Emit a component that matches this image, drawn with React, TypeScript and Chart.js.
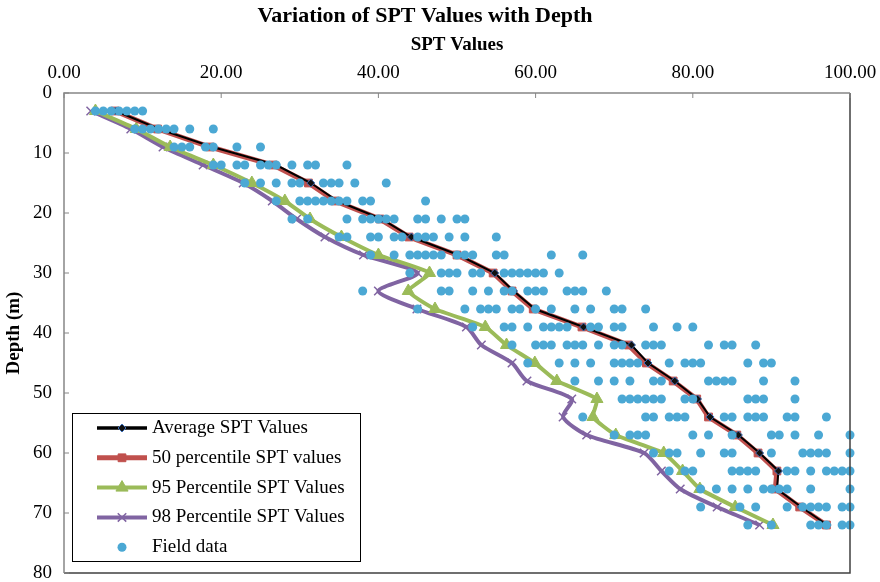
import React, { useEffect, useRef } from 'react';
import { Chart, registerables } from 'chart.js';
import { drawPoint } from 'chart.js/helpers';

Chart.register(...registerables);

const FONT = '"Liberation Serif", "Times New Roman", serif';

// Depth (m) of each SPT row
const depths = [3, 6, 9, 12, 15, 18, 21, 24, 27, 30, 33, 36, 39, 42, 45, 48, 51, 54, 57, 60, 63, 66, 69, 72];

// Line series (SPT value at each depth)
const averageSpt = [6.6, 12.1, 18.9, 27.0, 31.4, 34.8, 40.4, 44.2, 50.2, 54.8, 57.2, 59.9, 66.1, 72.2, 74.3, 77.7, 80.6, 82.2, 85.8, 88.5, 90.9, 90.7, 93.8, 97.1];
const p50Spt = [6.5, 11.9, 18.6, 26.6, 31.1, 34.5, 40.2, 43.9, 50.0, 54.6, 57.0, 59.7, 65.9, 71.8, 74.1, 77.5, 80.5, 82.0, 85.6, 88.3, 90.7, 90.5, 93.6, 97.0];
const p95Spt = [4.0, 9.2, 13.5, 19.0, 23.9, 28.1, 31.3, 35.3, 40.0, 46.5, 43.8, 47.2, 53.6, 56.3, 59.9, 62.7, 67.8, 67.3, 70.2, 76.3, 78.7, 80.9, 85.4, 90.2];
const p98Spt = [3.4, 8.5, 12.6, 17.7, 22.8, 26.5, 29.6, 33.2, 38.1, 45.0, 40.0, 44.9, 51.2, 53.1, 57.0, 58.9, 64.6, 63.5, 66.5, 73.8, 76.0, 78.4, 83.1, 88.5];

// Field data: SPT values observed at each depth (rows aligned with `depths`)
const fieldSpt = [
  [4, 5, 6, 7, 8, 9, 10],
  [9, 10, 11, 12, 13, 14, 16, 19],
  [14, 15, 16, 18, 19, 22, 25],
  [19, 20, 22, 23, 25, 26, 27, 29, 31, 32, 36],
  [23, 25, 27, 29, 30, 33, 34, 35, 37, 41],
  [27, 30, 31, 32, 33, 34, 35, 36, 38, 39, 46],
  [29, 31, 36, 38, 39, 40, 41, 42, 45, 46, 48, 50, 51],
  [35, 36, 39, 40, 42, 43, 45, 46, 47, 49, 51, 55],
  [39, 42, 44, 45, 46, 47, 48, 50, 51, 52, 55, 56, 62, 66],
  [44, 48, 49, 50, 52, 53, 56, 57, 58, 59, 60, 61, 63],
  [38, 48, 49, 52, 54, 56, 57, 59, 60, 61, 64, 65, 66, 69],
  [45, 51, 53, 54, 55, 57, 58, 60, 62, 65, 67, 70, 71, 74],
  [52, 56, 57, 59, 61, 62, 63, 64, 67, 68, 70, 71, 75, 78, 80],
  [57, 60, 61, 62, 64, 65, 66, 68, 70, 71, 74, 75, 76, 82, 84, 85, 88],
  [59, 63, 65, 67, 70, 71, 72, 73, 77, 79, 80, 81, 87, 89, 90],
  [65, 68, 70, 72, 75, 76, 82, 83, 84, 85, 89, 93],
  [71, 72, 73, 74, 75, 76, 79, 80, 87, 88, 89, 93],
  [66, 74, 75, 77, 78, 79, 84, 85, 87, 88, 89, 92, 93, 97],
  [70, 72, 73, 74, 80, 82, 85, 90, 91, 93, 96, 100],
  [75, 77, 78, 81, 84, 85, 90, 94, 95, 96, 97, 100],
  [77, 79, 80, 85, 86, 87, 88, 92, 93, 95, 97, 98, 99, 100],
  [81, 83, 85, 87, 89, 90, 91, 92, 95, 100],
  [81, 86, 88, 92, 94, 95, 96, 97, 99, 100],
  [87, 90, 95, 96, 97, 99, 100],
];

const xTicks = [0, 20, 40, 60, 80, 100];
const yTicks = [0, 10, 20, 30, 40, 50, 60, 70, 80];

const seriesLabels = [
  'Average SPT Values',
  '50 percentile SPT values',
  '95 Percentile SPT Values',
  '98 Percentile SPT Values',
  'Field data',
];

const toPoints = (vals: number[]) => depths.map((d, i) => ({ x: vals[i], y: d }));

const framePlugin = {
  id: 'frame',
  afterDatasetsDraw(chart: any) {
    const { ctx, chartArea, scales } = chart;
    const { left, right, top, bottom } = chartArea;
    ctx.save();
    ctx.strokeStyle = '#404040';
    ctx.lineWidth = 1.5;
    ctx.beginPath();
    ctx.moveTo(right, top);
    ctx.lineTo(right, bottom);
    ctx.lineTo(left, bottom);
    ctx.stroke();
    ctx.strokeStyle = '#868686';
    ctx.beginPath();
    ctx.moveTo(left, bottom);
    ctx.lineTo(left, top);
    ctx.lineTo(right, top);
    ctx.stroke();
    ctx.lineWidth = 1;
    ctx.beginPath();
    for (const v of xTicks) {
      const px = scales.x.getPixelForValue(v);
      ctx.moveTo(px, top);
      ctx.lineTo(px, top + 5);
    }
    for (const v of yTicks) {
      const py = scales.y.getPixelForValue(v);
      ctx.moveTo(left, py);
      ctx.lineTo(left + 5, py);
    }
    ctx.stroke();
    ctx.restore();
  },
};

const legendPlugin = {
  id: 'boxLegend',
  afterDraw(chart: any) {
    const { ctx } = chart;
    const x0 = 72.5, y0 = 413.5, w = 288, h = 148;
    ctx.save();
    ctx.fillStyle = '#ffffff';
    ctx.fillRect(x0, y0, w, h);
    ctx.strokeStyle = '#000000';
    ctx.lineWidth = 1;
    ctx.strokeRect(x0, y0, w, h);
    chart.data.datasets.forEach((ds: any, i: number) => {
      const cy = 428 + i * 29.8;
      if (ds.showLine) {
        ctx.strokeStyle = ds.borderColor;
        ctx.lineWidth = Math.max(ds.borderWidth, 3.5);
        ctx.beginPath();
        ctx.moveTo(97, cy);
        ctx.lineTo(147, cy);
        ctx.stroke();
      }
      ctx.fillStyle = ds.pointBackgroundColor;
      ctx.strokeStyle = ds.pointBorderColor;
      ctx.lineWidth = ds.pointBorderWidth;
      drawPoint(ctx, { pointStyle: ds.pointStyle, radius: ds.pointRadius, rotation: 0, borderWidth: ds.pointBorderWidth }, 122, cy);
      ctx.fillStyle = '#000000';
      ctx.font = `19px ${FONT}`;
      ctx.textBaseline = 'middle';
      ctx.textAlign = 'left';
      ctx.fillText(ds.label, 152, cy);
    });
    ctx.restore();
  },
};

export default function App() {
  const canvasRef = useRef<HTMLCanvasElement | null>(null);

  useEffect(() => {
    const canvas = canvasRef.current;
    if (!canvas) return;
    const fieldPoints = depths.flatMap((d, i) => fieldSpt[i].map((v) => ({ x: v, y: d })));

    const chart = new Chart(canvas, {
      type: 'scatter',
      data: {
        datasets: [
          {
            label: seriesLabels[0],
            data: toPoints(averageSpt),
            showLine: true,
            borderColor: '#000000',
            borderWidth: 2,
            pointStyle: 'rectRot',
            pointRadius: 4,
            pointBackgroundColor: '#111111',
            pointBorderColor: '#3d6db5',
            pointBorderWidth: 1,
            order: 1,
            clip: false,
          },
          {
            label: seriesLabels[1],
            data: toPoints(p50Spt),
            showLine: true,
            borderColor: '#C0504D',
            borderWidth: 5,
            pointStyle: 'rect',
            pointRadius: 5.5,
            pointBackgroundColor: '#C0504D',
            pointBorderColor: '#C0504D',
            pointBorderWidth: 1,
            order: 2,
            clip: false,
          },
          {
            label: seriesLabels[2],
            data: toPoints(p95Spt),
            showLine: true,
            borderColor: '#9BBB59',
            borderWidth: 4,
            tension: 0.15,
            pointStyle: 'triangle',
            pointRadius: 7,
            pointBackgroundColor: '#9BBB59',
            pointBorderColor: '#9BBB59',
            pointBorderWidth: 1,
            order: 3,
            clip: false,
          },
          {
            label: seriesLabels[3],
            data: toPoints(p98Spt),
            showLine: true,
            borderColor: '#8064A2',
            borderWidth: 4,
            tension: 0.25,
            pointStyle: 'crossRot',
            pointRadius: 6,
            pointBackgroundColor: '#8064A2',
            pointBorderColor: '#8064A2',
            pointBorderWidth: 1.5,
            order: 4,
            clip: false,
          },
          {
            label: seriesLabels[4],
            data: fieldPoints,
            showLine: false,
            pointStyle: 'circle',
            pointRadius: 4.5,
            pointBackgroundColor: '#4BA8D4',
            pointBorderColor: '#4BA8D4',
            pointBorderWidth: 0,
            order: 0,
            clip: false,
          },
        ] as any,
      },
      options: {
        responsive: false,
        animation: false,
        events: [],
        layout: { padding: { left: 0, right: 30, top: 0, bottom: 9 } },
        plugins: {
          legend: { display: false },
          tooltip: { enabled: false },
          title: {
            display: true,
            text: 'Variation of SPT Values with Depth',
            color: '#000000',
            font: { family: FONT, size: 22, weight: 'bold' },
            padding: { top: 3, bottom: 3 },
          },
        },
        scales: {
          x: {
            type: 'linear',
            position: 'top',
            min: 0,
            max: 100,
            grid: { display: false, drawTicks: false },
            border: { display: false },
            ticks: {
              stepSize: 20,
              color: '#000000',
              padding: 9,
              font: { family: FONT, size: 19 },
              callback: (v: any) => Number(v).toFixed(2),
            },
            title: {
              display: true,
              text: 'SPT Values',
              color: '#000000',
              font: { family: FONT, size: 19, weight: 'bold' },
              padding: { top: 1, bottom: 0 },
            },
            afterFit: (s: any) => {
              s.height = 60.6;
              s.paddingLeft = 0;
              s.paddingRight = 0;
            },
          },
          y: {
            type: 'linear',
            reverse: true,
            min: 0,
            max: 80,
            grid: { display: false, drawTicks: false },
            border: { display: false },
            ticks: {
              stepSize: 10,
              color: '#000000',
              padding: 12,
              font: { family: FONT, size: 19 },
            },
            title: {
              display: true,
              text: 'Depth (m)',
              color: '#000000',
              font: { family: FONT, size: 19, weight: 'bold' },
              padding: { top: 3, bottom: 0 },
            },
            afterFit: (s: any) => {
              s.width = 64;
              s.paddingTop = 0;
              s.paddingBottom = 0;
            },
          },
        },
      },
      plugins: [framePlugin, legendPlugin],
    } as any);

    return () => chart.destroy();
  }, []);

  return (
    <div style={{ position: 'fixed', left: 0, top: 0, width: 880, height: 582, background: '#ffffff' }}>
      <canvas ref={canvasRef} width={880} height={582} style={{ width: 880, height: 582, display: 'block' }} />
    </div>
  );
}
